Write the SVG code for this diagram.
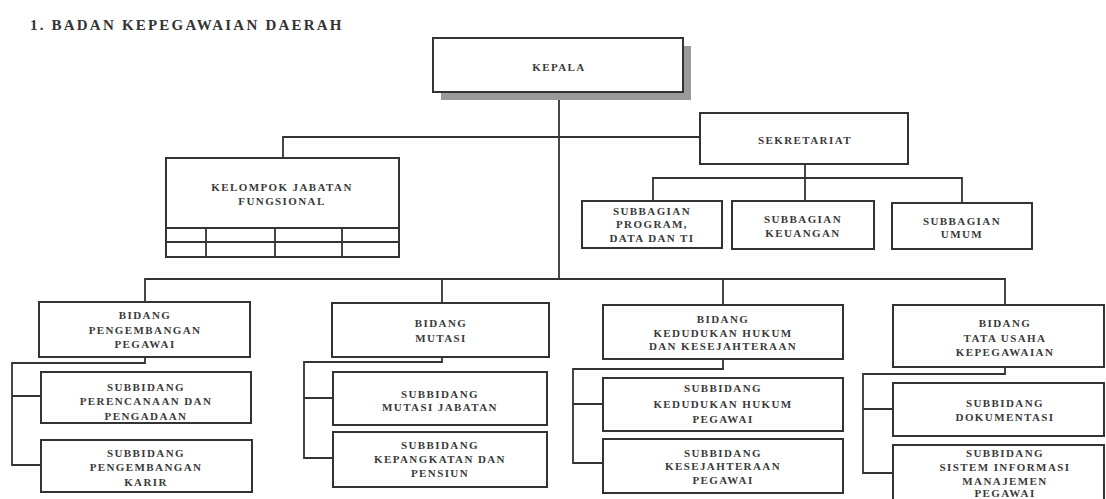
<svg xmlns="http://www.w3.org/2000/svg" width="1106" height="499" viewBox="0 0 1106 499">
<style>
.bg{fill:#ffffff}
.box{fill:#ffffff;stroke:#333333;stroke-width:2}
.shadow{fill:#9a9a9a}
.ln{fill:none;stroke:#333333;stroke-width:1.8}
.t{font-family:"Liberation Serif","Times New Roman",serif;font-size:11px;font-weight:bold;fill:#3a3a3a;text-anchor:middle;letter-spacing:1.4px}
.title{font-family:"Liberation Serif","Times New Roman",serif;font-size:15px;font-weight:bold;fill:#333333;letter-spacing:2.2px}
</style>
<rect class="bg" x="0" y="0" width="1106" height="499"/>
<text class="title" x="30" y="30">1. BADAN KEPEGAWAIAN DAERAH</text>

<g id="connectors">
<path class="ln" d="M559 92 V279"/>
<path class="ln" d="M283 158 V137 H700"/>
<path class="ln" d="M805 164 V178"/>
<path class="ln" d="M653 201 V178 H962 V203"/>
<path class="ln" d="M805 178 V201"/>
<path class="ln" d="M145 302 V279 H1005 V305"/>
<path class="ln" d="M442 279 V303"/>
<path class="ln" d="M723 279 V305"/>
<path class="ln" d="M145 357 V363 H12 V465 H41 M12 396 H41"/>
<path class="ln" d="M442 357 V362 H304 V458 H333 M304 398 H333"/>
<path class="ln" d="M723 359 V369 H573 V463 H603 M573 404 H603"/>
<path class="ln" d="M1005 367 V374 H863 V473 H893 M863 409 H893"/>
</g>

<g id="kepala">
<rect class="shadow" x="441" y="46" width="250" height="54"/>
<rect class="box" x="433" y="38" width="250" height="54"/>
<text class="t" x="559" y="71">KEPALA</text>
</g>

<g id="sekretariat">
<rect class="box" x="700" y="113" width="208" height="51"/>
<text class="t" x="805" y="144">SEKRETARIAT</text>
</g>

<g id="kelompok-jabatan-fungsional">
<rect class="box" x="166" y="158" width="233" height="99"/>
<path class="ln" d="M166 228 H399 M166 242 H399 M206 228 V257 M275 228 V257 M342 228 V257"/>
<text class="t" x="282" y="191">KELOMPOK JABATAN</text>
<text class="t" x="282" y="205">FUNGSIONAL</text>
</g>

<g id="subbagian-program">
<rect class="box" x="582" y="201" width="140" height="47"/>
<text class="t" x="652" y="215">SUBBAGIAN</text>
<text class="t" x="652" y="228">PROGRAM,</text>
<text class="t" x="652" y="242">DATA DAN TI</text>
</g>

<g id="subbagian-keuangan">
<rect class="box" x="732" y="201" width="142" height="48"/>
<text class="t" x="803" y="223">SUBBAGIAN</text>
<text class="t" x="803" y="237">KEUANGAN</text>
</g>

<g id="subbagian-umum">
<rect class="box" x="892" y="203" width="140" height="46"/>
<text class="t" x="962" y="225">SUBBAGIAN</text>
<text class="t" x="962" y="238">UMUM</text>
</g>

<g id="bidang-pengembangan">
<rect class="box" x="39" y="302" width="211" height="55"/>
<text class="t" x="145" y="319">BIDANG</text>
<text class="t" x="145" y="334">PENGEMBANGAN</text>
<text class="t" x="145" y="348">PEGAWAI</text>
</g>

<g id="subbidang-perencanaan">
<rect class="box" x="41" y="372" width="210" height="51"/>
<text class="t" x="146" y="391">SUBBIDANG</text>
<text class="t" x="146" y="405">PERENCANAAN DAN</text>
<text class="t" x="146" y="420">PENGADAAN</text>
</g>

<g id="subbidang-pengembangan-karir">
<rect class="box" x="41" y="440" width="211" height="52"/>
<text class="t" x="146" y="457">SUBBIDANG</text>
<text class="t" x="146" y="471">PENGEMBANGAN</text>
<text class="t" x="146" y="486">KARIR</text>
</g>

<g id="bidang-mutasi">
<rect class="box" x="332" y="303" width="217" height="54"/>
<text class="t" x="441" y="327">BIDANG</text>
<text class="t" x="441" y="342">MUTASI</text>
</g>

<g id="subbidang-mutasi-jabatan">
<rect class="box" x="333" y="372" width="214" height="53"/>
<text class="t" x="440" y="398">SUBBIDANG</text>
<text class="t" x="440" y="411">MUTASI JABATAN</text>
</g>

<g id="subbidang-kepangkatan">
<rect class="box" x="333" y="432" width="214" height="55"/>
<text class="t" x="440" y="449">SUBBIDANG</text>
<text class="t" x="440" y="463">KEPANGKATAN DAN</text>
<text class="t" x="440" y="477">PENSIUN</text>
</g>

<g id="bidang-kedudukan-hukum">
<rect class="box" x="603" y="305" width="240" height="54"/>
<text class="t" x="723" y="323">BIDANG</text>
<text class="t" x="723" y="337">KEDUDUKAN HUKUM</text>
<text class="t" x="723" y="350">DAN KESEJAHTERAAN</text>
</g>

<g id="subbidang-kedudukan-hukum">
<rect class="box" x="603" y="378" width="240" height="53"/>
<text class="t" x="723" y="392">SUBBIDANG</text>
<text class="t" x="723" y="408">KEDUDUKAN HUKUM</text>
<text class="t" x="723" y="423">PEGAWAI</text>
</g>

<g id="subbidang-kesejahteraan">
<rect class="box" x="603" y="439" width="240" height="54"/>
<text class="t" x="723" y="457">SUBBIDANG</text>
<text class="t" x="723" y="470">KESEJAHTERAAN</text>
<text class="t" x="723" y="484">PEGAWAI</text>
</g>

<g id="bidang-tata-usaha">
<rect class="box" x="893" y="305" width="211" height="62"/>
<text class="t" x="1005" y="327">BIDANG</text>
<text class="t" x="1005" y="342">TATA USAHA</text>
<text class="t" x="1005" y="356">KEPEGAWAIAN</text>
</g>

<g id="subbidang-dokumentasi">
<rect class="box" x="893" y="383" width="211" height="53"/>
<text class="t" x="1005" y="407">SUBBIDANG</text>
<text class="t" x="1005" y="421">DOKUMENTASI</text>
</g>

<g id="subbidang-simpeg">
<rect class="box" x="893" y="445" width="211" height="62"/>
<text class="t" x="1005" y="457">SUBBIDANG</text>
<text class="t" x="1005" y="471">SISTEM INFORMASI</text>
<text class="t" x="1005" y="485">MANAJEMEN</text>
<text class="t" x="1005" y="497">PEGAWAI</text>
</g>
</svg>
